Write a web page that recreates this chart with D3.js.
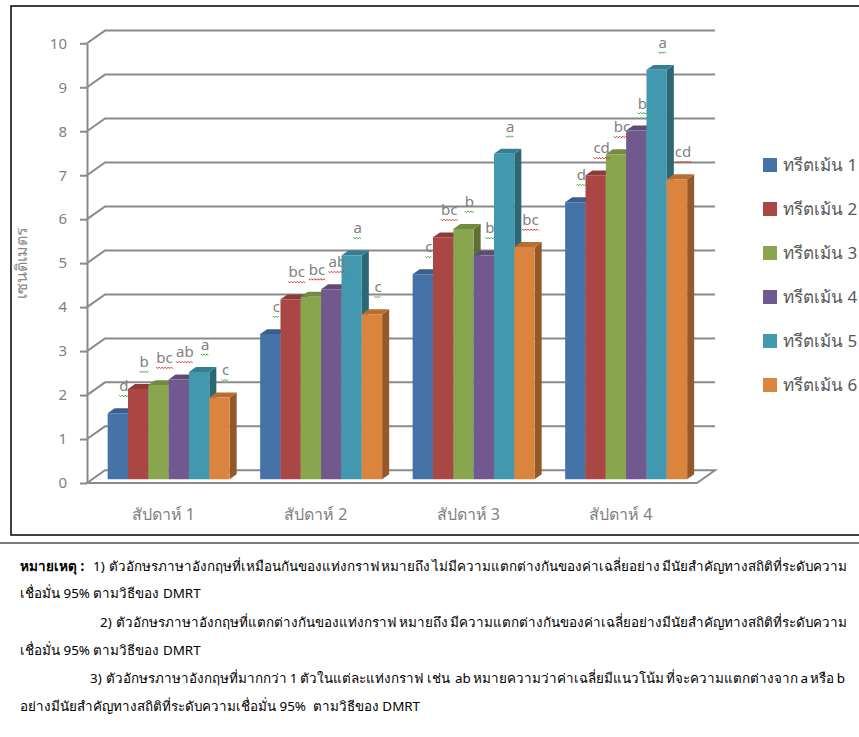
<!DOCTYPE html>
<html lang="th">
<head>
<meta charset="UTF-8">
<title>ความสูงต้น</title>
<script src="https://cdnjs.cloudflare.com/ajax/libs/d3/7.8.5/d3.min.js"></script>
<style>
    body { margin: 0; background: #fff; }
    svg text { font-family: "Noto Sans", "DejaVu Sans", sans-serif; }
    .note { white-space: pre; }
</style>
</head>
<body>
<svg id="chart" width="859" height="737"></svg>
<script>
// data
var weeks = ['สัปดาห์ 1', 'สัปดาห์ 2', 'สัปดาห์ 3', 'สัปดาห์ 4'];
var treatments = ['ทรีตเม้น 1', 'ทรีตเม้น 2', 'ทรีตเม้น 3', 'ทรีตเม้น 4', 'ทรีตเม้น 5', 'ทรีตเม้น 6'];
var t1 = [1.50, 3.30, 4.66, 6.30];
var t2 = [2.05, 4.09, 5.50, 6.91];
var t3 = [2.14, 4.15, 5.69, 7.39];
var t4 = [2.27, 4.32, 5.09, 7.93];
var t5 = [2.44, 5.09, 7.40, 9.31];
var t6 = [1.86, 3.75, 5.28, 6.82];
var l1 = ['d', 'c', 'c', 'd'];
var l2 = ['b', 'bc', 'bc', 'cd'];
var l3 = ['bc', 'bc', 'b', 'bc'];
var l4 = ['ab', 'ab', 'b', 'b'];
var l5 = ['a', 'a', 'a', 'a'];
var l6 = ['c', 'c', 'bc', 'cd'];
var yTicks = [0, 1, 2, 3, 4, 5, 6, 7, 8, 9, 10];
var yTitle = 'เซนติเมตร';
var notes = [
    '1)  ตัวอักษรภาษาอังกฤษที่เหมือนกันของแท่งกราฟ หมายถึง ไม่มีความแตกต่างกันของค่าเฉลี่ยอย่าง มีนัยสำคัญทางสถิติที่ระดับความ',
    'เชื่อมั่น 95% ตามวิธีของ DMRT',
    '2)  ตัวอักษรภาษาอังกฤษที่แตกต่างกันของแท่งกราฟ หมายถึง มีความแตกต่างกันของค่าเฉลี่ยอย่างมีนัยสำคัญทางสถิติที่ระดับความ',
    'เชื่อมั่น 95% ตามวิธีของ DMRT',
    '3)  ตัวอักษรภาษาอังกฤษที่มากกว่า 1 ตัวในแต่ละแท่งกราฟ  เช่น  ab หมายความว่าค่าเฉลี่ยมีแนวโน้ม ที่จะความแตกต่างจาก a หรือ b',
    'อย่างมีนัยสำคัญทางสถิติที่ระดับความเชื่อมั่น 95%  ตามวิธีของ DMRT'
];

var values = [t1, t2, t3, t4, t5, t6];
var letters = [l1, l2, l3, l4, l5, l6];
var colors = ['#4572A7', '#AA4643', '#89A54E', '#71588F', '#4198AF', '#DB843D'];

var svg = d3.select('#chart');

// 3d oblique offsets
var DX = 18, DY = 12.7, z0 = 0.3, z1 = 0.69;

var x0 = d3.scaleBand().domain(weeks).range([87, 697]).paddingInner(0.2).paddingOuter(0.1);
var x1 = d3.scaleBand().domain(treatments).range([0, x0.bandwidth()]);
var y = d3.scaleLinear().domain([0, 10]).range([483, 43.3]);

function P(x, v, z) {
    return [x + z * DX, y(v) - z * DY];
}
function poly(pts) {
    return pts.map(function (p) { return p.join(','); }).join(' ');
}

// chart frame
svg.append('rect')
    .attr('x', 11).attr('y', 6)
    .attr('width', 900).attr('height', 529)
    .attr('fill', 'none').attr('stroke', '#000').attr('stroke-width', 1.5);

// floor
svg.append('polygon')
    .attr('points', poly([P(87, 0, 0), P(697, 0, 0), P(697, 0, 1), P(87, 0, 1)]))
    .attr('fill', '#fff').attr('stroke', '#8a8a8a').attr('stroke-width', 2);

// gridlines on side + back wall
svg.selectAll('.grid')
    .data(yTicks.slice(1))
    .enter()
    .append('polyline')
    .attr('class', 'grid')
    .attr('points', function (d) { return poly([P(87, d, 0), P(87, d, 1), P(697, d, 1)]); })
    .attr('fill', 'none').attr('stroke', '#8a8a8a').attr('stroke-width', 2);

// y axis
var yAxis = svg.append('g')
    .attr('transform', 'translate(87,0)')
    .call(d3.axisLeft(y).tickValues(yTicks).tickSize(7).tickSizeOuter(0).tickPadding(13));
yAxis.select('.domain').attr('stroke', '#8a8a8a').attr('stroke-width', 2);
yAxis.selectAll('.tick line').attr('stroke', '#8a8a8a').attr('stroke-width', 2);
yAxis.selectAll('.tick text')
    .attr('fill', '#7f7f7f').style('font-size', '15px');

// front edge of floor
svg.append('line')
    .attr('x1', 87).attr('x2', 697).attr('y1', y(0)).attr('y2', y(0))
    .attr('stroke', '#8a8a8a').attr('stroke-width', 2);

// x axis labels
var xAxis = svg.append('g')
    .attr('transform', 'translate(0,' + y(0) + ')')
    .call(d3.axisBottom(x0).tickSize(0).tickPadding(26));
xAxis.select('.domain').remove();
xAxis.selectAll('.tick text')
    .attr('fill', '#7f7f7f').style('font-size', '16px');

// y title
svg.append('text')
    .attr('transform', 'translate(27,263) rotate(-90)')
    .attr('text-anchor', 'middle')
    .attr('fill', '#8a8a8a')
    .style('font-size', '16px')
    .text(yTitle);

// bars
var bars = [];
weeks.forEach(function (w, wi) {
    treatments.forEach(function (t, ti) {
        bars.push({ week: w, t: t, ti: ti, v: values[ti][wi], lab: letters[ti][wi] });
    });
});

var bw = x1.bandwidth();
var g = svg.selectAll('.bar')
    .data(bars)
    .enter()
    .append('g')
    .attr('class', 'bar');

g.append('polygon')
    .attr('points', function (d) {
        var x = x0(d.week) + x1(d.t) + bw;
        return poly([P(x, 0, z0), P(x, d.v, z0), P(x, d.v, z1), P(x, 0, z1)]);
    })
    .attr('fill', function (d) { return d3.color(colors[d.ti]).darker(1.1); });

g.append('polygon')
    .attr('points', function (d) {
        var x = x0(d.week) + x1(d.t);
        return poly([P(x, d.v, z0), P(x + bw, d.v, z0), P(x + bw, d.v, z1), P(x, d.v, z1)]);
    })
    .attr('fill', function (d) { return d3.color(colors[d.ti]).darker(0.5); });

g.append('polygon')
    .attr('points', function (d) {
        var x = x0(d.week) + x1(d.t);
        return poly([P(x, 0, z0), P(x + bw, 0, z0), P(x + bw, d.v, z0), P(x, d.v, z0)]);
    })
    .attr('fill', function (d) { return colors[d.ti]; });

// significance letters with spell-check squiggles
var labs = svg.selectAll('.lab')
    .data(bars)
    .enter()
    .append('g')
    .attr('class', 'lab');

labs.append('text')
    .attr('x', function (d) { return P(x0(d.week) + x1(d.t) + bw / 2, d.v, z0)[0] + 6; })
    .attr('y', function (d) { return P(0, d.v, z0)[1] - 22; })
    .attr('text-anchor', 'middle')
    .attr('fill', '#7f7f7f')
    .style('font-size', '15px')
    .text(function (d) { return d.lab; });

labs.each(function (d) {
    var t = d3.select(this).select('text');
    var w = t.node().getComputedTextLength();
    var cx = +t.attr('x'), by = +t.attr('y') + 4;
    var path = d3.path();
    var xs = cx - w / 2;
    path.moveTo(xs, by);
    var k = 0;
    for (var xx = xs + 1.5; xx <= cx + w / 2 + 0.1; xx += 1.5) {
        path.lineTo(xx, by + (k % 2 === 0 ? 1.5 : 0));
        k++;
    }
    d3.select(this).append('path')
        .attr('d', path.toString())
        .attr('fill', 'none')
        .attr('stroke', d.lab.length > 1 ? '#e03030' : '#3aa63a')
        .attr('stroke-width', 1);
});

// legend
var leg = svg.selectAll('.leg')
    .data(treatments)
    .enter()
    .append('g')
    .attr('class', 'leg')
    .attr('transform', function (d, i) { return 'translate(763,' + (165 + i * 44) + ')'; });
leg.append('rect')
    .attr('x', 0).attr('y', -7).attr('width', 14).attr('height', 14)
    .attr('fill', function (d, i) { return colors[i]; });
leg.append('text')
    .attr('x', 20).attr('dy', '0.35em')
    .attr('fill', '#595959')
    .style('font-size', '17px')
    .text(function (d) { return d; });

// separator line
svg.append('line')
    .attr('x1', 0).attr('x2', 859).attr('y1', 543).attr('y2', 543)
    .attr('stroke', '#7a7a7a').attr('stroke-width', 2);

// notes below chart
var noteFont = '13.4px';
svg.append('text')
    .attr('x', 20).attr('y', 571)
    .style('font-size', '13.5px').style('font-weight', 'bold')
    .text('หมายเหตุ :');
var noteX = [93, 20, 100, 20, 90, 20];
var noteY = [571, 598, 627, 655, 683, 711];
var noteEnd = [847, null, 847, null, 845, null];
notes.forEach(function (n, i) {
    var t = svg.append('text')
        .attr('class', 'note')
        .attr('x', noteX[i]).attr('y', noteY[i])
        .style('font-size', noteFont)
        .text(n);
    if (noteEnd[i]) {
        // justify to the right margin, like the document
        var w = t.node().getComputedTextLength();
        var spaces = n.split(' ').length - 1;
        var extra = (noteEnd[i] - noteX[i] - w) / spaces;
        t.style('word-spacing', extra + 'px');
    }
});
</script>
</body>
</html>
